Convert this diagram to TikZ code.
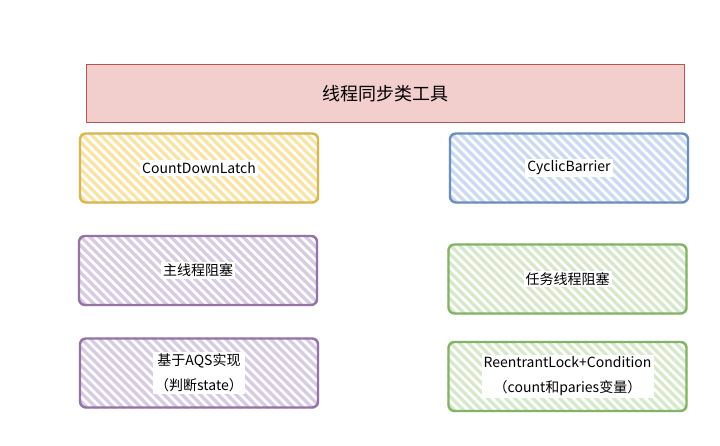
\documentclass[tikz,border=0pt]{standalone}
\usepackage{fontspec}
\setmainfont{Noto Sans CJK SC}
\usetikzlibrary{backgrounds}
\definecolor{yellowline}{RGB}{214,182,86}
\definecolor{yellowhatch}{RGB}{250,228,165}
\definecolor{blueline}{RGB}{108,142,191}
\definecolor{bluehatch}{RGB}{204,219,243}
\definecolor{purpleline}{RGB}{150,115,166}
\definecolor{purplehatch}{RGB}{215,204,227}
\definecolor{greenline}{RGB}{130,179,102}
\definecolor{greenhatch}{RGB}{214,233,203}
\definecolor{titleline}{RGB}{184,84,80}
\definecolor{titlefill}{RGB}{242,206,204}
% hatch inside a box, drawn behind its border
\newcommand\hatchbox[2]{%
  \begin{scope}[on background layer]
  \begin{scope}
    \clip[rounded corners=6pt] (#1.south west) rectangle (#1.north east);
    \foreach \i in {-80,-71,...,245}
      \draw[#2, line width=3.2pt] ([xshift=\i pt]#1.north west) -- ++(80,80);
  \end{scope}
  \end{scope}}
\begin{document}
\begin{tikzpicture}[x=1pt, y=-1pt,
  box/.style={rectangle, rounded corners=6pt, line width=2.4pt,
              minimum width=238pt, minimum height=69pt, inner sep=0pt},
  txt/.style={fill=white, inner sep=2pt, align=center,
              font=\fontsize{14}{25}\selectfont}
]
\useasboundingbox (0,0) rectangle (720,446);
% title
\node[rectangle, draw=titleline, fill=titlefill, line width=1pt,
      minimum width=598pt, minimum height=58pt,
      font=\fontsize{18}{22}\selectfont] (title) at (385,94) {线程同步类工具};
% left column
\node[box, draw=yellowline] (cdl) at (199,168) {};
\hatchbox{cdl}{yellowhatch}
\node[txt] (cdltext) at (cdl) {CountDownLatch};
\node[box, draw=purpleline] (mainblock) at (198,270.5) {};
\hatchbox{mainblock}{purplehatch}
\node[txt] (mainblocktext) at (mainblock) {主线程阻塞};
\node[box, draw=purpleline] (aqs) at (199,373) {};
\hatchbox{aqs}{purplehatch}
\node[txt] (aqstext) at (aqs) {基于AQS实现\\（判断state）};
% right column
\node[box, draw=blueline] (cb) at (569,168) {};
\hatchbox{cb}{bluehatch}
\node[txt] (cbtext) at (cb) {CyclicBarrier};
\node[box, draw=greenline] (taskblock) at (567.5,279) {};
\hatchbox{taskblock}{greenhatch}
\node[txt] (taskblocktext) at (taskblock) {任务线程阻塞};
\node[box, draw=greenline] (lock) at (567.5,376.5) {};
\hatchbox{lock}{greenhatch}
\node[txt] (locktext) at (lock) {ReentrantLock+Condition\\（count和paries变量）};
\end{tikzpicture}
\end{document}
